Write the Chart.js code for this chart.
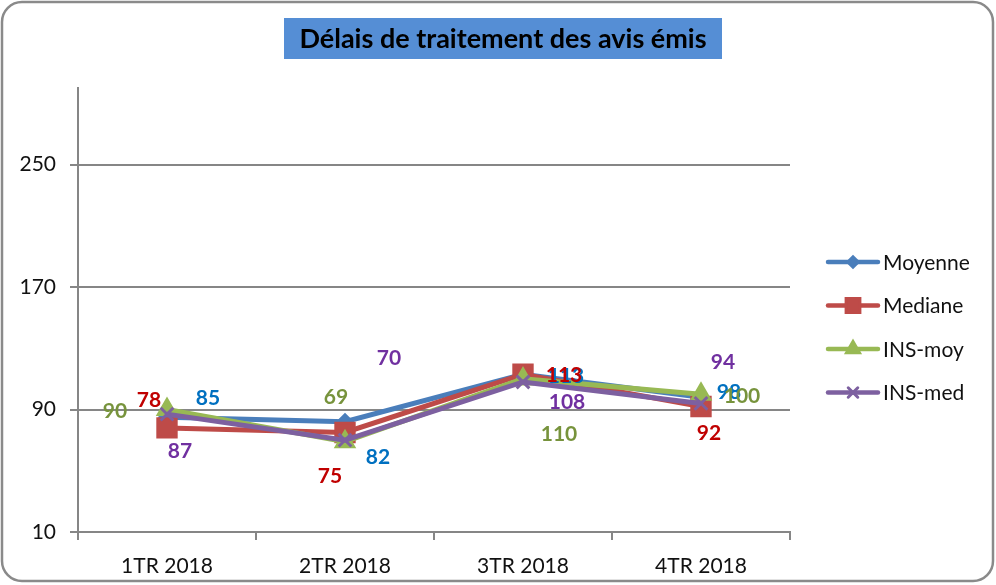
<!DOCTYPE html>
<html>
<head>
<meta charset="utf-8">
<script src="https://cdn.jsdelivr.net/npm/chart.js@4"></script>
<style>
  html, body { margin: 0; padding: 0; background: #fff; }
  #wrap { position: relative; width: 996px; height: 585px; }
</style>
</head>
<body>
<div id="wrap"><canvas id="chart" width="996" height="585"></canvas></div>
<script>
const TITLE = "Délais de traitement des avis émis";
const QUARTERS = ["1TR 2018", "2TR 2018", "3TR 2018", "4TR 2018"];
const Y_TICKS = [10, 90, 170, 250];

const moyenne = [85, 82, 113, 98];
const mediane = [78, 75, 113, 92];
const insMoy = [90, 69, 110, 100];
const insMed = [87, 70, 108, 94];

// label offsets from the point (px), as placed in the original
const LABEL_OFFSETS = [
    [[41, -19], [33, 35], [43, 2], [28, -5]],
    [[-18, -28], [-15, 44], [41, 1], [8, 27]],
    [[-52, 2], [-9, -44], [36, 55], [41, 2]],
    [[13, 37], [44, -82], [44, 20], [22, -41]]
];

const FONT = 'Lato, "Open Sans", sans-serif';

const SERIES = [
    { label: 'Moyenne', data: moyenne, color: '#4a7ebb', text: '#0070c0', style: 'rectRot', r: 7 },
    { label: 'Mediane', data: mediane, color: '#be4b48', text: '#c00000', style: 'rect', r: 13 },
    { label: 'INS-moy', data: insMoy, color: '#98b954', text: '#77933c', style: 'triangle', r: 10 },
    { label: 'INS-med', data: insMed, color: '#7d60a0', text: '#7030a0', style: 'crossRot', r: 9 }
];

// frame + title box
const framePlugin = {
    id: 'frame',
    beforeDraw(chart) {
        const c = chart.ctx;
        c.save();
        c.strokeStyle = '#8a8a8a';
        c.lineWidth = 2.5;
        c.beginPath();
        c.roundRect(2, 2, 991, 579, 20);
        c.stroke();
        c.fillStyle = '#558ed5';
        c.fillRect(284, 18, 438, 41);
        c.fillStyle = '#000';
        c.font = 'bold 27px ' + FONT;
        c.textAlign = 'center';
        c.textBaseline = 'middle';
        c.fillText(TITLE, 503, 39);
        c.restore();
    }
};

const labelPlugin = {
    id: 'pointLabels',
    afterDatasetsDraw(chart) {
        const c = chart.ctx;
        c.save();
        c.font = 'bold 21px ' + FONT;
        c.textAlign = 'center';
        c.textBaseline = 'middle';
        SERIES.forEach((s, i) => {
            chart.getDatasetMeta(i).data.forEach((pt, j) => {
                const [dx, dy] = LABEL_OFFSETS[i][j];
                c.fillStyle = s.text;
                c.fillText(String(s.data[j]), pt.x + dx, pt.y + dy);
            });
        });
        c.restore();
    }
};

const legendPlugin = {
    id: 'sideLegend',
    afterDraw(chart) {
        const c = chart.ctx;
        const x0 = 828, x1 = 878, top = 262, gap = 43.5;
        c.save();
        SERIES.forEach((s, i) => {
            const y = top + i * gap;
            c.strokeStyle = s.color;
            c.lineWidth = 4.5;
            c.lineCap = 'round';
            c.beginPath();
            c.moveTo(x0, y);
            c.lineTo(x1, y);
            c.stroke();
            c.fillStyle = s.color;
            c.lineWidth = 3;
            Chart.helpers.drawPoint(c, { pointStyle: s.style, radius: s.r * 0.75, borderWidth: 3 }, (x0 + x1) / 2, y);
            c.fillStyle = '#111';
            c.font = '21px ' + FONT;
            c.textAlign = 'left';
            c.textBaseline = 'middle';
            c.fillText(s.label, 883, y + 1);
        });
        c.restore();
    }
};

new Chart(document.getElementById('chart'), {
    type: 'line',
    data: {
        labels: QUARTERS,
        datasets: SERIES.map((s, i) => ({
            label: s.label,
            data: s.data,
            borderColor: s.color,
            backgroundColor: s.color,
            borderWidth: 5,
            pointStyle: s.style,
            pointRadius: s.r,
            pointBorderColor: s.color,
            pointBackgroundColor: s.color,
            pointBorderWidth: 3,
            tension: 0,
            order: SERIES.length - i
        }))
    },
    options: {
        responsive: false,
        animation: false,
        layout: { padding: { top: 88, right: 206, bottom: 0, left: 0 } },
        plugins: { legend: { display: false }, tooltip: { enabled: false } },
        scales: {
            x: {
                offset: true,
                afterFit: s => { s.height = 53; },
                border: { color: '#868686', width: 2 },
                grid: { offset: true, drawOnChartArea: false, drawTicks: true, tickLength: 8, color: '#868686', lineWidth: 2 },
                ticks: { color: '#111', font: { family: FONT, size: 21 }, padding: 14, maxRotation: 0 }
            },
            y: {
                min: 10,
                max: 300,
                afterFit: s => { s.width = 78; },
                afterBuildTicks: s => { s.ticks = Y_TICKS.map(v => ({ value: v })); },
                border: { color: '#868686', width: 2 },
                grid: { color: '#868686', lineWidth: 2, tickLength: 8 },
                ticks: { color: '#111', font: { family: FONT, size: 21 }, padding: 14 }
            }
        }
    },
    plugins: [framePlugin, labelPlugin, legendPlugin]
});
</script>
</body>
</html>
